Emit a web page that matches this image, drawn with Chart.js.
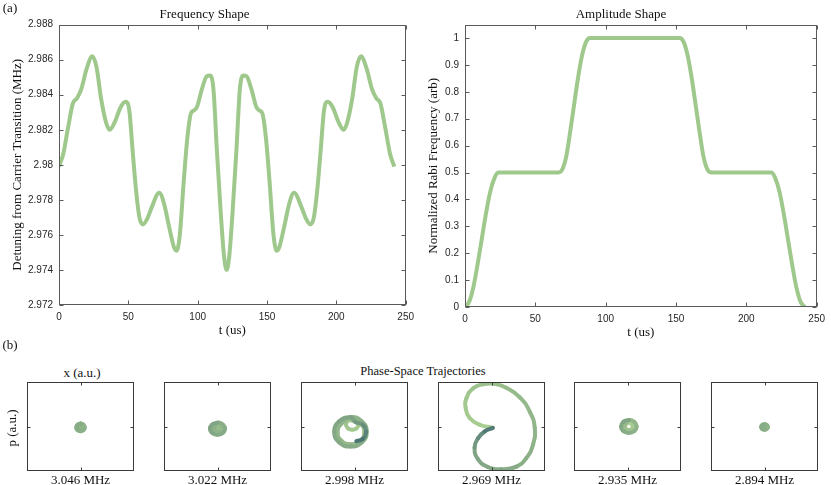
<!DOCTYPE html>
<html>
<head>
<meta charset="utf-8">
<script src="https://cdn.jsdelivr.net/npm/chart.js@4.4.0/dist/chart.umd.min.js"></script>
<style>
  body { margin: 0; width: 831px; height: 485px; position: relative; overflow: hidden; background: #fff; font-family: "Liberation Serif", serif; color: #111; }
  canvas { position: absolute; }
  .lbl { position: absolute; font-size: 13px; line-height: 1; white-space: nowrap; transform: translate(-50%, -50%); }
</style>
</head>
<body>
<canvas id="freqChart" width="420" height="340" style="left:0;top:0"></canvas>
<canvas id="ampChart" width="411" height="340" style="left:420px;top:0"></canvas>
<div class="lbl" style="left:10px;top:7px">(a)</div>
<div class="lbl" style="left:10px;top:344px">(b)</div>
<div class="lbl" style="left:82px;top:372px">x (a.u.)</div>
<div class="lbl" style="left:423px;top:371px;font-size:12.5px">Phase-Space Trajectories</div>
<div class="lbl" style="left:11px;top:428px;transform:translate(-50%,-50%) rotate(-90deg)">p (a.u.)</div>
<div id="panels"></div>
<script>
// Pulse shapes (top row) and phase-space trajectories (bottom row)

// ---- frequency shape (MHz vs us) ----
const freqT = [0, 3, 6.5, 10, 13, 16, 20, 24, 27, 30.5, 34, 36.5, 40, 44.5, 48, 50.7, 53, 55.5, 58, 60.5,
  63.5, 66.5, 72.3, 75.7, 79.3, 82.9, 84.7, 87, 90, 92.4, 95, 97.2, 99.5, 103, 106.5, 108.8, 111.4, 113.8,
  116.7, 119, 120.9, 122.8, 125.1, 128.0, 130.4, 133.0, 135.3, 138.8, 142.3, 144.6, 146.8, 149.4, 151.8,
  154.8, 157.1, 158.9, 162.5, 166.1, 169.5, 175.3, 178.3, 181.3, 183.8, 186.3, 188.8, 191.1, 193.8, 197.3,
  201.8, 205.3, 207.8, 211.3, 214.8, 217.8, 221.8, 225.8, 228.8, 231.8, 235.3, 238.8, 241.8];
const freqMHz = [2.9799, 2.9806, 2.9821, 2.9835, 2.9838, 2.9843, 2.9855, 2.9862, 2.9856, 2.9837, 2.9824,
  2.9820, 2.9824, 2.9833, 2.9836, 2.9831, 2.9809, 2.9786, 2.9770, 2.9766, 2.9769, 2.9775, 2.9784, 2.9778,
  2.9765, 2.9753, 2.9751, 2.9759, 2.9791, 2.9814, 2.9829, 2.9831, 2.9833, 2.9843, 2.98505, 2.9851, 2.9843,
  2.9809, 2.9772, 2.9748, 2.9740, 2.9748, 2.9772, 2.9809, 2.9843, 2.9851, 2.98505, 2.9843, 2.9833, 2.9831,
  2.9829, 2.9814, 2.9791, 2.9759, 2.9751, 2.9753, 2.9765, 2.9778, 2.9784, 2.9775, 2.9769, 2.9766, 2.9770,
  2.9786, 2.9809, 2.9831, 2.9836, 2.9833, 2.9824, 2.9820, 2.9824, 2.9837, 2.9856, 2.9862, 2.9855, 2.9843,
  2.9838, 2.9835, 2.9821, 2.9806, 2.9799];
const freqTicks = [2.972, 2.974, 2.976, 2.978, 2.98, 2.982, 2.984, 2.986, 2.988];
const freqTickLabels = ["2.972", "2.974", "2.976", "2.978", "2.98", "2.982", "2.984", "2.986", "2.988"];

// ---- amplitude shape (normalized Rabi frequency vs us) ----
const ampT = [0, 3, 6, 9, 12, 15, 18, 21, 23.5, 45, 66, 69, 72, 75, 77.5, 80, 83, 86, 89, 120,
  152.5, 155.5, 158.5, 161.5, 164, 166.5, 169.5, 172.5, 175.5, 197, 218, 220.5, 223.5, 226.5, 229.5,
  232.5, 235.5, 238.5, 241.5];
const ampValue = [0, 0.02, 0.075, 0.16, 0.255, 0.35, 0.43, 0.48, 0.5, 0.5, 0.5, 0.51, 0.56, 0.66, 0.75,
  0.84, 0.93, 0.985, 1, 1, 1, 0.985, 0.93, 0.84, 0.75, 0.66, 0.56, 0.51, 0.5, 0.5, 0.5, 0.48, 0.43, 0.35,
  0.255, 0.16, 0.075, 0.02, 0];
const ampTicks = [0, 0.1, 0.2, 0.3, 0.4, 0.5, 0.6, 0.7, 0.8, 0.9, 1];
const ampTickLabels = ["0", "0.1", "0.2", "0.3", "0.4", "0.5", "0.6", "0.7", "0.8", "0.9", "1"];

const timeTicks = [0, 50, 100, 150, 200, 250];

// ---- phase-space trajectories, one per detuning ----
const panelLabels = ["3.046 MHz", "3.022 MHz", "2.998 MHz", "2.969 MHz", "2.935 MHz", "2.894 MHz"];
const traj1X = [0, 0.025, 0.035, 0.025, 0, -0.025, -0.035, -0.025, 0, 0.064, 0.09, 0.064, 0, -0.064, -0.09, -0.064, 0];
const traj1P = [0.015, 0.005, -0.02, -0.045, -0.055, -0.045, -0.02, 0.005, 0.06, 0.037, -0.02, -0.077, -0.10, -0.077, -0.02, 0.037, 0.06];
const traj2X = [0, 0.021, 0.03, 0.021, 0, -0.021, -0.03, -0.021, 0, 0.065, 0.092, 0.065, 0, -0.065, -0.092, -0.065,
  0, 0.12, 0.17, 0.12, 0, -0.12, -0.17, -0.12, 0];
const traj2P = [-0.02, -0.029, -0.05, -0.071, -0.08, -0.071, -0.05, -0.029, 0.025, 0.003, -0.05, -0.103, -0.125,
  -0.103, -0.05, 0.003, 0.085, 0.045, -0.05, -0.145, -0.185, -0.145, -0.05, 0.045, 0.085];
const traj3X = [-0.05, 0.049, 0.09, 0.049, -0.05, -0.149, -0.19, -0.149,
  -0.08, 0.132, 0.22, 0.132, -0.08, -0.292, -0.38, -0.292,
  -0.09, 0.168, 0.275, 0.168, -0.09, -0.348, -0.455, -0.348, -0.09,
  0.02, 0.19, 0.26, 0.19, 0.04];
const traj3P = [0.165, 0.13, 0.045, -0.04, -0.075, -0.04, 0.045, 0.13,
  0.14, 0.061, -0.13, -0.321, -0.40, -0.321, -0.13, 0.061,
  0.21, 0.113, -0.12, -0.353, -0.45, -0.353, -0.12, 0.113, 0.21,
  0.10, 0.036, -0.12, -0.276, -0.33];
const traj4X = [0.03, -0.26, -0.49, -0.58, -0.56, -0.41, -0.19, 0.07, 0.33, 0.63, 0.86, 0.97, 0.93, 0.78,
  0.56, 0.22, -0.08, -0.30, -0.38, -0.30, -0.15, 0.03];
const traj4P = [-0.03, 0.04, 0.19, 0.42, 0.64, 0.86, 0.95, 0.96, 0.87, 0.66, 0.33, -0.03, -0.41, -0.71,
  -0.90, -0.96, -0.91, -0.74, -0.48, -0.26, -0.11, -0.03];
const traj5X = [0.03, 0.094, 0.12, 0.094, 0.03, -0.034, -0.06, -0.034, 0.03, 0.155, 0.205, 0.155, 0.03, -0.095, -0.145, -0.095, 0.03];
const traj5P = [0.08, 0.057, 0, -0.057, -0.08, -0.057, 0, 0.057, 0.145, 0.103, 0, -0.103, -0.145, -0.103, 0, 0.103, 0.145];
const traj6X = [0, 0.014, 0.02, 0.014, 0, -0.014, -0.02, -0.014, 0, 0.05, 0.07, 0.05, 0, -0.05, -0.07, -0.05, 0];
const traj6P = [0.01, 0.004, -0.01, -0.024, -0.03, -0.024, -0.01, 0.004, 0.045, 0.029, -0.01, -0.049, -0.065, -0.049, -0.01, 0.029, 0.045];
const trajX = [traj1X, traj2X, traj3X, traj4X, traj5X, traj6X];
const trajP = [traj1P, traj2P, traj3P, traj4P, traj5P, traj6P];

// ---- styling ----
const LINE_GREEN = "#9fc98c";
const AXIS_GRAY = "#5a5a5a";
const SERIF = { family: "Liberation Serif", size: 13, weight: "normal" };
const SANS = { family: "Liberation Sans", size: 10 };
const TRAJ_STOPS = [[0, [170, 207, 146]], [0.82, [128, 164, 132]], [0.92, [95, 135, 122]], [1, [60, 103, 111]]];
const PANEL_LEFT = [27, 164, 301, 438, 574, 711];
const PANEL_TOP = 382, PANEL_W = 107, PANEL_H = 89, PANEL_PAD = 3;
const PANEL_COLOR_FROM = [0.3, 0.15, 0, 0, 0, 0.3];
const PANEL_COLOR_TO = [0.7, 0.85, 1, 1, 0.85, 0.7];
const PANEL_LINE_W = [4.5, 4, 4, 4, 4, 4.5];

Chart.defaults.animation = false;

// box round the plot area with inward tick marks on all four sides
const boxTicks = {
  id: "boxTicks",
  afterDraw(chart, args, opts) {
    const { ctx, chartArea: a, scales } = chart;
    const len = opts.len || 4;
    const L = Math.round(a.left) + 0.5, R = Math.round(a.right) - 0.5;
    const T = Math.round(a.top) + 0.5, B = Math.round(a.bottom) - 0.5;
    const xs = opts.zeroOnly ? [0] : scales.x.ticks.map((t) => t.value);
    const ys = opts.zeroOnly ? [0] : scales.y.ticks.map((t) => t.value);
    ctx.save();
    ctx.strokeStyle = opts.color || AXIS_GRAY;
    ctx.lineWidth = 1;
    ctx.strokeRect(L, T, R - L, B - T);
    ctx.beginPath();
    xs.forEach((v) => {
      const px = Math.round(scales.x.getPixelForValue(v)) + 0.5;
      ctx.moveTo(px, B); ctx.lineTo(px, B - len);
      ctx.moveTo(px, T); ctx.lineTo(px, T + len);
    });
    ys.forEach((v) => {
      const py = Math.round(scales.y.getPixelForValue(v)) + 0.5;
      ctx.moveTo(L, py); ctx.lineTo(L + len, py);
      ctx.moveTo(R, py); ctx.lineTo(R - len, py);
    });
    ctx.stroke();
    ctx.restore();
  }
};

function setTicks(values) {
  return (scale) => { scale.ticks = values.map((v) => ({ value: v })); };
}

function shapeChart(id, opts) {
  return new Chart(document.getElementById(id), {
    type: "line",
    data: {
      datasets: [{
        data: opts.xs.map((x, i) => ({ x, y: opts.ys[i] })),
        borderColor: LINE_GREEN,
        borderWidth: 4,
        pointRadius: 0,
        cubicInterpolationMode: "monotone",
        clip: 0,
      }],
    },
    options: {
      responsive: false,
      layout: { padding: { left: 0, right: opts.padRight, top: 0, bottom: 0 } },
      plugins: {
        legend: { display: false },
        tooltip: { enabled: false },
        title: { display: true, text: opts.title, font: SERIF, color: "#111", padding: { top: 7, bottom: 2 } },
        boxTicks: { len: 4 },
      },
      scales: {
        x: {
          type: "linear", min: 0, max: 250,
          afterBuildTicks: setTicks(timeTicks),
          ticks: { font: SANS, color: "#262626", padding: 6, maxRotation: 0, autoSkip: false },
          grid: { display: false, drawTicks: false }, border: { display: false },
          title: { display: true, text: "t (us)", font: SERIF, color: "#111", padding: { top: 0, bottom: opts.xTitlePad } },
          afterFit: (s) => { s.height = opts.xAxisH; },
        },
        y: {
          type: "linear", min: opts.yMin, max: opts.yMax,
          afterBuildTicks: setTicks(opts.yTicks),
          ticks: { font: SANS, color: "#262626", padding: 6, autoSkip: false, callback: (v, i) => opts.yLabels[i] },
          grid: { display: false, drawTicks: false }, border: { display: false },
          title: { display: true, text: opts.yTitle, font: SERIF, color: "#111", padding: { top: opts.yTitlePad, bottom: 0 } },
          afterFit: (s) => { s.width = opts.yAxisW; },
        },
      },
    },
    plugins: [boxTicks],
  });
}

shapeChart("freqChart", {
  xs: freqT, ys: freqMHz, title: "Frequency Shape",
  yMin: 2.972, yMax: 2.988, yTicks: freqTicks, yLabels: freqTickLabels,
  yTitle: "Detuning from Carrier Transition (MHz)",
  padRight: 11, xAxisH: 35, yAxisW: 59, xTitlePad: 2, yTitlePad: 10,
});

shapeChart("ampChart", {
  xs: ampT, ys: ampValue, title: "Amplitude Shape",
  yMin: 0, yMax: 1.05, yTicks: ampTicks, yLabels: ampTickLabels,
  yTitle: "Normalized Rabi Frequency (arb)",
  padRight: 9, xAxisH: 33, yAxisW: 45, xTitlePad: 0, yTitlePad: 5.5,
});

function mixColor(f) {
  for (let k = 1; k < TRAJ_STOPS.length; k++) {
    const [f0, c0] = TRAJ_STOPS[k - 1], [f1, c1] = TRAJ_STOPS[k];
    if (f <= f1 || k === TRAJ_STOPS.length - 1) {
      const u = Math.max(0, Math.min(1, (f - f0) / (f1 - f0)));
      const c = c0.map((v, j) => Math.round(v + (c1[j] - v) * u));
      return "rgb(" + c.join(",") + ")";
    }
  }
}

const panelsEl = document.getElementById("panels");
panelLabels.forEach((label, p) => {
  const cv = document.createElement("canvas");
  cv.width = PANEL_W + 2 * PANEL_PAD;
  cv.height = PANEL_H + 2 * PANEL_PAD;
  cv.style.left = (PANEL_LEFT[p] - PANEL_PAD) + "px";
  cv.style.top = (PANEL_TOP - PANEL_PAD) + "px";
  panelsEl.appendChild(cv);

  const lab = document.createElement("div");
  lab.className = "lbl";
  lab.style.left = (PANEL_LEFT[p] + PANEL_W / 2) + "px";
  lab.style.top = "479px";
  lab.textContent = label;
  panelsEl.appendChild(lab);

  const xs = trajX[p], ps = trajP[p];
  const n = xs.length;
  const from = PANEL_COLOR_FROM[p], to = PANEL_COLOR_TO[p];
  const colorAt = (i) => mixColor(from + (to - from) * (i / (n - 1)));

  new Chart(cv, {
    type: "line",
    data: {
      datasets: [{
        data: xs.map((x, i) => ({ x, y: ps[i] })),
        borderColor: colorAt(0),
        borderWidth: PANEL_LINE_W[p],
        borderCapStyle: "round",
        borderJoinStyle: "round",
        tension: 0.5,
        pointRadius: 0,
        clip: 0,
        segment: { borderColor: (ctx) => colorAt(ctx.p0DataIndex) },
      }],
    },
    options: {
      responsive: false,
      layout: { padding: PANEL_PAD },
      plugins: {
        legend: { display: false },
        tooltip: { enabled: false },
        boxTicks: { len: 3, zeroOnly: true, color: "#3a3a3a" },
      },
      scales: {
        x: { type: "linear", min: -1.2, max: 1.2, display: false },
        y: { type: "linear", min: -1, max: 1, display: false },
      },
    },
    plugins: [boxTicks],
  });
});
</script>
</body>
</html>
